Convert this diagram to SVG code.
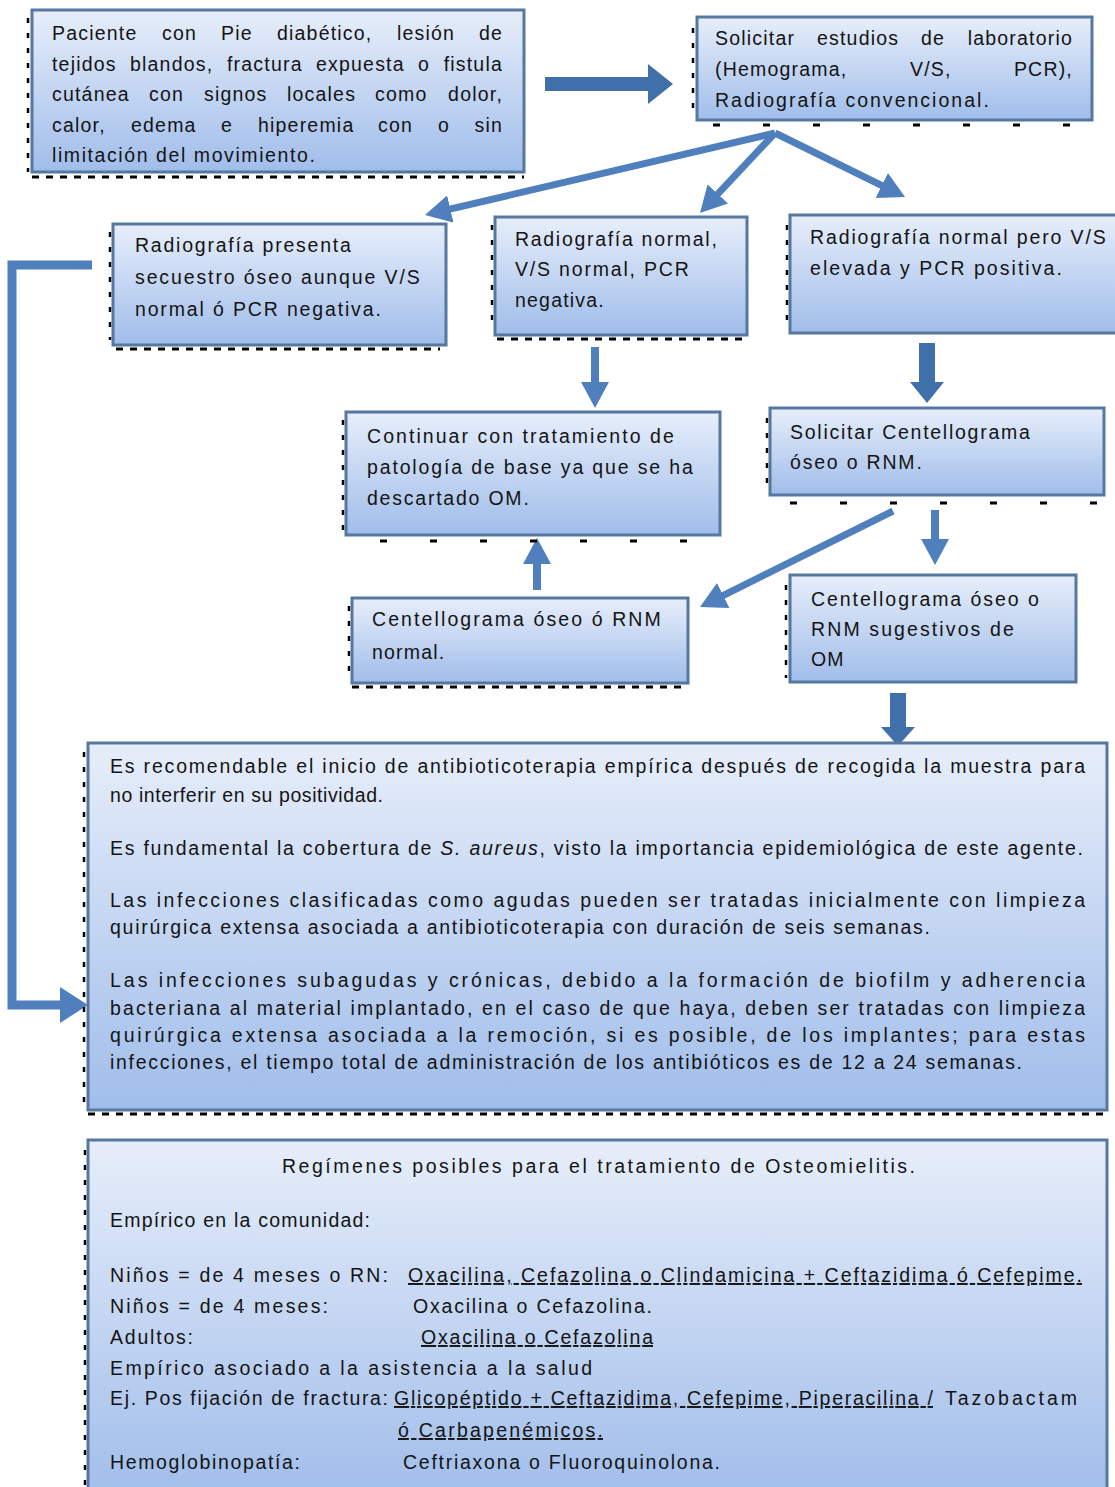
<svg xmlns="http://www.w3.org/2000/svg" width="1115" height="1487" viewBox="0 0 1115 1487">
<defs>
<linearGradient id="bg" x1="0" y1="0" x2="0" y2="1">
<stop offset="0" stop-color="#e7eefa"/>
<stop offset="1" stop-color="#a0bdea"/>
</linearGradient>
<marker id="ah" markerUnits="userSpaceOnUse" markerWidth="26" markerHeight="28" viewBox="0 0 26 28" refX="6" refY="14" orient="auto">
<path d="M0,0 L26,14 L0,28 z" fill="#4f7fbd"/>
</marker>
<marker id="ahb" markerUnits="userSpaceOnUse" markerWidth="28" markerHeight="36" viewBox="0 0 28 36" refX="8" refY="18" orient="auto">
<path d="M0,0 L28,18 L0,36 z" fill="#4f7fbd"/>
</marker>
</defs>
<style>
.box{fill:url(#bg);stroke:#56779f;stroke-width:3}
.t{font-family:"Liberation Sans",Arial,sans-serif;font-size:19.5px;letter-spacing:1.2px;fill:#141414}
.s{font-family:"Liberation Sans",Arial,sans-serif;font-size:19.5px;fill:#141414}
.e{text-anchor:end}
.c{stroke:#4f7fbd;fill:none}
.blk{fill:#4070aa}
.dv{stroke:#000;stroke-width:2.5;stroke-dasharray:5 10;fill:none}
.dh{stroke:#000;stroke-width:3;stroke-dasharray:7 7;fill:none}
.dh2{stroke:#000;stroke-width:3;stroke-dasharray:7 43;fill:none}
</style>
<rect width="1115" height="1487" fill="#fff"/>

<g id="connectors">
<polygon class="blk" points="545,77 648,77 648,64 673,84 648,104 648,91 545,91"/>
<line class="c" stroke-width="7" x1="775" y1="133" x2="444.5" y2="210.4" marker-end="url(#ah)"/>
<line class="c" stroke-width="7" x1="775" y1="133" x2="713.7" y2="198.4" marker-end="url(#ah)"/>
<line class="c" stroke-width="7" x1="775" y1="133" x2="887.1" y2="188.2" marker-end="url(#ah)"/>
<polyline class="c" stroke-width="9" points="92,265 12,265 12,1005 68,1005" marker-end="url(#ahb)"/>
<line class="c" stroke-width="8" x1="595" y1="347" x2="595" y2="388" marker-end="url(#ah)"/>
<polygon class="blk" points="919,343 935,343 935,382 944,382 927,403 910,382 919,382"/>
<line class="c" stroke-width="7" x1="893" y1="511" x2="717.9" y2="598.1" marker-end="url(#ah)"/>
<line class="c" stroke-width="8" x1="935" y1="510" x2="935" y2="545" marker-end="url(#ah)"/>
<line class="c" stroke-width="8" x1="537" y1="590" x2="537" y2="558" marker-end="url(#ah)"/>
<polygon class="blk" points="890,693 906,693 906,727 915,727 898,746 881,727 890,727"/>
</g>

<g id="n1">
<path class="dv" d="M28,18 V172"/><path class="dh" d="M32,177 H524"/>
<rect class="box" x="32" y="10" width="492" height="162"/>
<text class="t" y="40"><tspan x="52">Paciente</tspan><tspan x="162">con</tspan><tspan x="221">Pie</tspan><tspan x="277">diabético,</tspan><tspan x="397">lesión</tspan><tspan x="503" class="e">de</tspan></text>
<text class="t" y="71"><tspan x="52">tejidos</tspan><tspan x="130">blandos,</tspan><tspan x="227">fractura</tspan><tspan x="316">expuesta</tspan><tspan x="418">o</tspan><tspan x="503" class="e">fistula</tspan></text>
<text class="t" y="101"><tspan x="52">cutánea</tspan><tspan x="149">con</tspan><tspan x="204">signos</tspan><tspan x="287">locales</tspan><tspan x="375">como</tspan><tspan x="503" class="e">dolor,</tspan></text>
<text class="t" y="132"><tspan x="52">calor,</tspan><tspan x="131">edema</tspan><tspan x="221">e</tspan><tspan x="258">hiperemia</tspan><tspan x="378">con</tspan><tspan x="438">o</tspan><tspan x="503" class="e">sin</tspan></text>
<text class="t" x="52" y="162" textLength="264" lengthAdjust="spacing">limitación del movimiento.</text>
</g>

<g id="n2">
<path class="dv" d="M693,28 V115"/><path class="dh2" d="M713,125 H1090"/>
<rect class="box" x="697" y="17" width="395" height="103"/>
<text class="t" y="45"><tspan x="715">Solicitar</tspan><tspan x="817">estudios</tspan><tspan x="921">de</tspan><tspan x="1073" class="e">laboratorio</tspan></text>
<text class="t" y="76"><tspan x="715">(Hemograma,</tspan><tspan x="910">V/S,</tspan><tspan x="1073" class="e">PCR),</tspan></text>
<text class="t" x="715" y="107" textLength="275" lengthAdjust="spacing">Radiografía convencional.</text>
</g>

<g id="n3">
<path class="dv" d="M110,232 V340"/><path class="dh" d="M116,349 H440"/>
<rect class="box" x="113" y="224" width="333" height="121"/>
<text class="t" x="135" y="252" textLength="217" lengthAdjust="spacing">Radiografía presenta</text>
<text class="t" x="135" y="284" textLength="286" lengthAdjust="spacing">secuestro óseo aunque V/S</text>
<text class="t" x="135" y="316" textLength="247" lengthAdjust="spacing">normal ó PCR negativa.</text>
</g>

<g id="n4">
<path class="dv" d="M492,225 V330"/><path class="dh" d="M497,339 H745"/>
<rect class="box" x="495" y="217" width="252" height="118"/>
<text class="t" x="515" y="246" textLength="203" lengthAdjust="spacing">Radiografía normal,</text>
<text class="t" x="515" y="276" textLength="175" lengthAdjust="spacing">V/S normal, PCR</text>
<text class="t" x="515" y="307">negativa.</text>
</g>

<g id="n5">
<path class="dv" d="M787,225 V330"/>
<rect class="box" x="790" y="215" width="330" height="118"/>
<text class="t" x="810" y="244" textLength="297" lengthAdjust="spacing">Radiografía normal pero V/S</text>
<text class="t" x="810" y="275" textLength="253" lengthAdjust="spacing">elevada  y PCR positiva.</text>
</g>

<g id="n6">
<path class="dv" d="M343,420 V530"/><path class="dh2" d="M380,541 H715"/>
<rect class="box" x="346" y="412" width="374" height="123"/>
<text class="t" x="367" y="443" textLength="308" lengthAdjust="spacing">Continuar con tratamiento  de</text>
<text class="t" x="367" y="474" textLength="327" lengthAdjust="spacing">patología de base ya que se ha</text>
<text class="t" x="367" y="505" textLength="163" lengthAdjust="spacing">descartado OM.</text>
</g>

<g id="n7">
<path class="dv" d="M767,418 V490"/><path class="dh2" d="M790,503 H1100"/>
<rect class="box" x="770" y="408" width="334" height="87"/>
<text class="t" x="790" y="439" textLength="241" lengthAdjust="spacing">Solicitar Centellograma</text>
<text class="t" x="790" y="469" textLength="133" lengthAdjust="spacing">óseo o RNM.</text>
</g>

<g id="n8">
<path class="dv" d="M349,606 V680"/><path class="dh" d="M352,687 H688"/>
<rect class="box" x="352" y="598" width="336" height="85"/>
<text class="t" x="372" y="626" textLength="290" lengthAdjust="spacing">Centellograma óseo ó RNM</text>
<text class="t" x="372" y="659">normal.</text>
</g>

<g id="n9">
<path class="dv" d="M786,585 V678"/>
<rect class="box" x="790" y="575" width="286" height="107"/>
<text class="t" x="811" y="606" textLength="229" lengthAdjust="spacing">Centellograma óseo o</text>
<text class="t" x="811" y="636" textLength="204" lengthAdjust="spacing">RNM sugestivos de</text>
<text class="t" x="811" y="666">OM</text>
</g>

<g id="n10">
<path class="dv" d="M84,752 V1105"/><path class="dh" d="M88,1114 H1105"/>
<rect class="box" x="88" y="743" width="1019" height="367"/>
<text class="s" x="110" y="773" textLength="975" lengthAdjust="spacing">Es recomendable el inicio de antibioticoterapia empírica después de recogida la muestra para</text>
<text class="s" x="110" y="802" textLength="273" lengthAdjust="spacing">no interferir en su positividad.</text>
<text class="s" x="110" y="855" textLength="973" lengthAdjust="spacing">Es fundamental la cobertura de <tspan font-style="italic">S. aureus</tspan>, visto la importancia epidemiológica de este agente.</text>
<text class="s" x="110" y="907" textLength="975" lengthAdjust="spacing">Las infecciones clasificadas como agudas pueden ser tratadas inicialmente con limpieza</text>
<text class="s" x="110" y="934" textLength="820" lengthAdjust="spacing">quirúrgica extensa asociada a antibioticoterapia con duración de seis semanas.</text>
<text class="s" x="110" y="987" textLength="975" lengthAdjust="spacing">Las infecciones subagudas y crónicas, debido a la formación de biofilm y adherencia</text>
<text class="s" x="110" y="1015" textLength="975" lengthAdjust="spacing">bacteriana al material implantado, en el caso de que haya, deben ser tratadas con limpieza</text>
<text class="s" x="110" y="1042" textLength="975" lengthAdjust="spacing">quirúrgica extensa asociada a la remoción, si es posible, de los implantes; para estas</text>
<text class="s" x="110" y="1069" textLength="912" lengthAdjust="spacing">infecciones, el tiempo total de administración de los antibióticos es de 12 a 24 semanas.</text>
</g>

<g id="n11">
<path class="dv" d="M85,1150 V1487"/>
<rect class="box" x="88" y="1140" width="1019" height="360"/>
<text class="s" x="282" y="1173" textLength="633" lengthAdjust="spacing">Regímenes posibles para el tratamiento de Osteomielitis.</text>
<text class="s" x="110" y="1227" textLength="260" lengthAdjust="spacing">Empírico en la comunidad:</text>
<text class="s" x="110" y="1282" textLength="278" lengthAdjust="spacing">Niños  = de 4 meses o RN:</text>
<text class="s" x="408" y="1282" textLength="674" lengthAdjust="spacing" text-decoration="underline">Oxacilina, Cefazolina o Clindamicina + Ceftazidima ó  Cefepime.</text>
<text class="s" x="110" y="1313" textLength="218" lengthAdjust="spacing">Niños  = de 4 meses:</text>
<text class="s" x="413" y="1313" textLength="239" lengthAdjust="spacing">Oxacilina o Cefazolina.</text>
<text class="s" x="110" y="1344" textLength="83" lengthAdjust="spacing">Adultos:</text>
<text class="s" x="421" y="1344" textLength="232" lengthAdjust="spacing" text-decoration="underline">Oxacilina o Cefazolina</text>
<text class="s" x="110" y="1375" textLength="482" lengthAdjust="spacing">Empírico asociado a la asistencia a la salud</text>
<text class="s" x="110" y="1405" textLength="278" lengthAdjust="spacing">Ej. Pos fijación de fractura:</text>
<text class="s" x="394" y="1405" textLength="539" lengthAdjust="spacing" text-decoration="underline">Glicopéptido + Ceftazidima, Cefepime, Piperacilina /</text>
<text class="s" x="945" y="1405" textLength="132" lengthAdjust="spacing">Tazobactam</text>
<text class="s" x="398" y="1437" textLength="205" lengthAdjust="spacing" text-decoration="underline">ó Carbapenémicos.</text>
<text class="s" x="110" y="1469" textLength="190" lengthAdjust="spacing">Hemoglobinopatía:</text>
<text class="s" x="403" y="1469" textLength="317" lengthAdjust="spacing">Ceftriaxona o Fluoroquinolona.</text>
</g>
</svg>
